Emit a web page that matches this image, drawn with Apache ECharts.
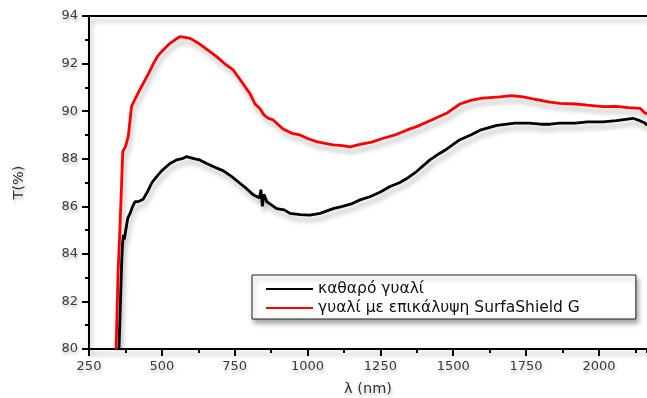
<!DOCTYPE html>
<html>
<head>
<meta charset="utf-8">
<style>
  html, body { margin: 0; padding: 0; background: #fff; }
  #chart { width: 647px; height: 398px; }
</style>
<script src="https://cdn.jsdelivr.net/npm/echarts@6/dist/echarts.min.js"></script>
</head>
<body>
<div id="chart"></div>
<script>
// clean glass (black)
var cleanWl = [353, 358, 362, 365, 368, 371, 375, 383, 391, 400, 408, 420, 436, 450, 466, 482, 500, 528, 550, 570, 585, 610, 630, 654, 680, 710, 740, 768, 790, 814, 835, 840, 845, 850, 860, 894, 920, 940, 975, 1008, 1043, 1088, 1120, 1150, 1180, 1214, 1250, 1283, 1317, 1345, 1374, 1420, 1450, 1477, 1500, 1523, 1560, 1592, 1650, 1712, 1760, 1800, 1832, 1866, 1920, 1960, 2014, 2060, 2117, 2140, 2158, 2165];
var cleanT = [80.0, 82.0, 83.6, 84.4, 84.8, 84.6, 84.9, 85.5, 85.7, 86.0, 86.2, 86.2, 86.3, 86.6, 87.0, 87.25, 87.5, 87.8, 87.95, 88.0, 88.09, 88.0, 87.95, 87.8, 87.65, 87.5, 87.25, 86.97, 86.75, 86.48, 86.35, 86.7, 86.0, 86.5, 86.2, 85.9, 85.85, 85.7, 85.65, 85.63, 85.7, 85.9, 86.0, 86.1, 86.27, 86.4, 86.6, 86.83, 87.0, 87.2, 87.46, 87.95, 88.2, 88.4, 88.6, 88.8, 89.0, 89.2, 89.4, 89.5, 89.5, 89.45, 89.45, 89.5, 89.5, 89.55, 89.55, 89.6, 89.7, 89.6, 89.5, 89.4];

// coated glass (red)
var coatWl = [343, 350, 356, 362, 366, 370, 375, 385, 396, 408, 420, 436, 455, 471, 485, 499, 515, 528, 545, 562, 580, 597, 620, 642, 665, 688, 715, 745, 770, 790, 802, 820, 837, 850, 865, 882, 916, 950, 974, 1000, 1031, 1060, 1088, 1120, 1146, 1180, 1220, 1260, 1300, 1340, 1374, 1420, 1477, 1523, 1560, 1600, 1660, 1700, 1740, 1780, 1832, 1866, 1920, 1960, 2014, 2060, 2100, 2141, 2158, 2165];
var coatT = [80.0, 83.3, 85.0, 87.0, 88.3, 88.4, 88.5, 88.95, 90.2, 90.5, 90.8, 91.17, 91.6, 92.0, 92.3, 92.5, 92.7, 92.85, 93.0, 93.13, 93.1, 93.06, 92.9, 92.71, 92.5, 92.29, 92.0, 91.73, 91.3, 90.95, 90.75, 90.3, 90.1, 89.85, 89.7, 89.63, 89.25, 89.05, 89.0, 88.85, 88.72, 88.65, 88.58, 88.55, 88.5, 88.6, 88.7, 88.86, 89.0, 89.2, 89.35, 89.6, 89.91, 90.3, 90.45, 90.55, 90.6, 90.65, 90.6, 90.5, 90.38, 90.33, 90.3, 90.25, 90.19, 90.2, 90.15, 90.12, 89.92, 89.9];

var seriesNames = ['καθαρό γυαλί', 'γυαλί με επικάλυψη SurfaShield G'];
var xTicks = [250, 2165];
var yTicks = [80, 94];

function pairs(xs, ys) {
    var out = [];
    for (var i = 0; i < xs.length; i++) out.push([xs[i], ys[i]]);
    return out;
}

var font = 'DejaVu Sans';
var txtShadow = {
    textShadowColor: 'rgba(0,0,0,0.25)',
    textShadowBlur: 3,
    textShadowOffsetX: 1,
    textShadowOffsetY: 3
};
var lineShadow = {
    shadowColor: 'rgba(0,0,0,0.28)',
    shadowBlur: 5,
    shadowOffsetX: 2,
    shadowOffsetY: 5
};

var myChart = echarts.init(document.getElementById('chart'), null, { renderer: 'canvas' });
var option = {
    animation: false,
    backgroundColor: '#fff',
    grid: { left: 89, right: 0, top: 16, bottom: 49, containLabel: false, outerBoundsMode: 'none' },
    legend: {
        orient: 'vertical',
        left: 252,
        top: 275,
        padding: [6, 56, 3, 14],
        itemGap: 3,
        itemWidth: 47,
        itemHeight: 2,
        icon: 'rect',
        backgroundColor: '#fff',
        borderColor: '#222',
        borderWidth: 1,
        shadowColor: 'rgba(0,0,0,0.35)',
        shadowBlur: 5,
        shadowOffsetX: 2,
        shadowOffsetY: 4,
        textStyle: { fontFamily: font, fontSize: 15.5, color: '#111' },
        data: seriesNames
    },
    xAxis: [{
        type: 'value',
        min: xTicks[0], max: xTicks[1], interval: 250,
        position: 'bottom',
        name: 'λ (nm)',
        nameLocation: 'middle',
        nameGap: 33,
        nameTextStyle: Object.assign({ fontFamily: font, fontSize: 14.5, color: '#333' }, txtShadow),
        axisLine: { lineStyle: Object.assign({ color: '#000', width: 2 }, lineShadow) },
        axisTick: { length: 7, lineStyle: { color: '#000', width: 2 } },
        axisLabel: Object.assign({
            fontFamily: font, fontSize: 13, color: '#3a3a3a', margin: 11, showMaxLabel: false,
            formatter: function (v) { return String(v); }
        }, txtShadow),
        splitLine: { show: false }
    }, {
        type: 'value',
        min: xTicks[0], max: xTicks[1], interval: 125,
        position: 'bottom',
        axisLine: { show: false },
        axisTick: { length: 4, lineStyle: { color: '#000', width: 2 } },
        axisLabel: { show: false },
        splitLine: { show: false }
    }, {
        type: 'value',
        min: xTicks[0], max: xTicks[1],
        position: 'top',
        axisLine: { lineStyle: Object.assign({ color: '#000', width: 2 }, lineShadow) },
        axisTick: { show: false },
        axisLabel: { show: false },
        splitLine: { show: false }
    }],
    yAxis: {
        type: 'value',
        min: yTicks[0], max: yTicks[1], interval: 2,
        name: 'T(%)',
        nameLocation: 'middle',
        nameGap: 62,
        nameTextStyle: Object.assign({ fontFamily: font, fontSize: 14.5, color: '#333' }, txtShadow),
        axisLine: { show: true, lineStyle: Object.assign({ color: '#000', width: 2 }, lineShadow) },
        axisTick: { show: true, length: 7, lineStyle: { color: '#000', width: 2 } },
        minorTick: { show: true, splitNumber: 2, length: 4, lineStyle: { color: '#000', width: 2 } },
        axisLabel: Object.assign({ fontFamily: font, fontSize: 13, color: '#3a3a3a', margin: 11 }, txtShadow),
        splitLine: { show: false }
    },
    series: [{
        name: seriesNames[0],
        type: 'line',
        xAxisIndex: 0,
        data: pairs(cleanWl, cleanT),
        showSymbol: false,
        color: '#000',
        lineStyle: Object.assign({ color: '#000', width: 2.8 }, lineShadow)
    }, {
        name: seriesNames[1],
        type: 'line',
        xAxisIndex: 0,
        data: pairs(coatWl, coatT),
        showSymbol: false,
        color: '#ff0000',
        lineStyle: Object.assign({ color: '#ff0000', width: 2.8 }, lineShadow)
    }]
};
option && myChart.setOption(option);
</script>
</body>
</html>
